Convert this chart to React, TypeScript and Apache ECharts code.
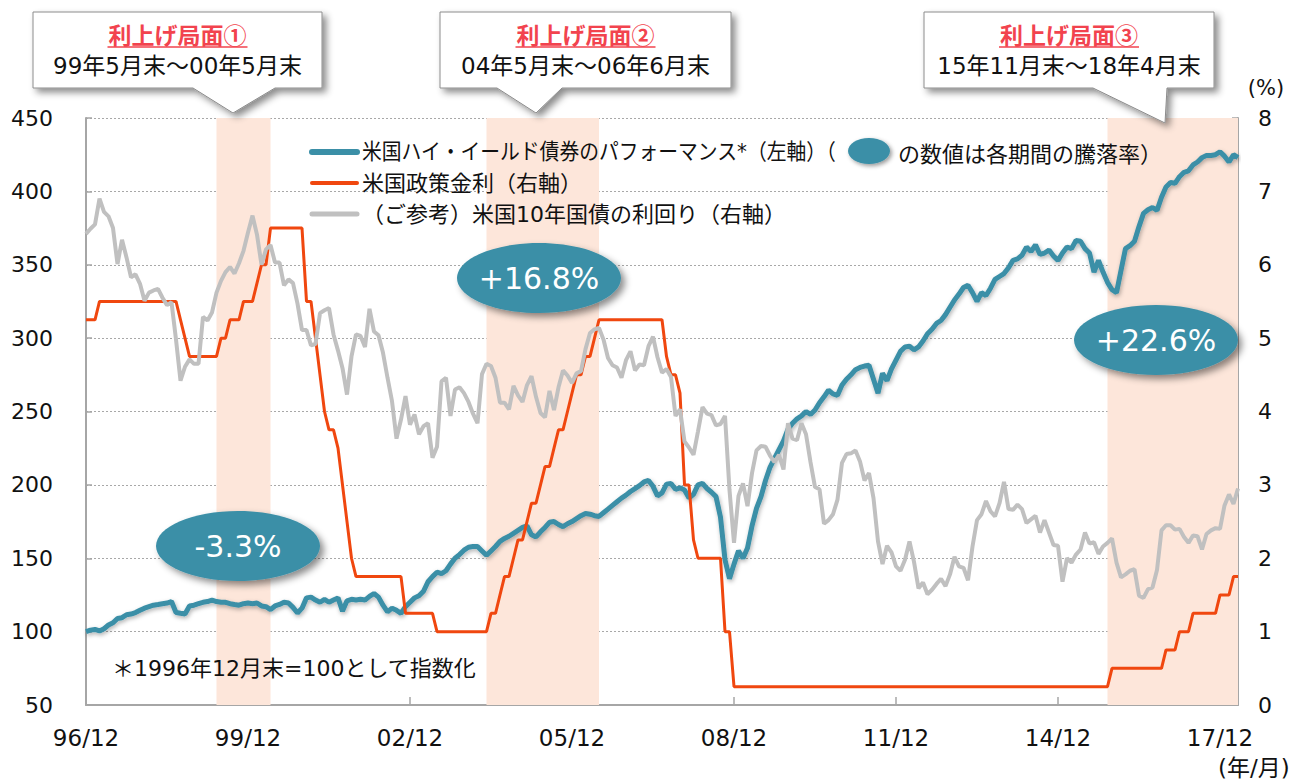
import React, { useEffect, useRef } from "react";
import * as echarts from "echarts";

// Monthly categories 1996/12 .. 2018/04
const months: string[] = [];
{
  let y = 1996;
  let m = 12;
  while (!(y === 2018 && m === 5)) {
    months.push(`${String(y % 100).padStart(2, "0")}/${m}`);
    m++;
    if (m > 12) { m = 1; y++; }
  }
}

// 米国ハイ・イールド債券のパフォーマンス (1996/12 = 100)
const hyIndex: number[] = [
  100,
  101, 101.5, 100.5, 102, 104.5, 106, 109, 109.5, 111.5, 112, 113, 114.5,
  116, 117, 118, 118.5, 119, 119.5, 120.5, 113, 112.5, 112, 117.5, 118,
  119, 120, 120.5, 121.5, 120.5, 120, 120, 119, 118.5, 118, 119, 119.5,
  119, 119.5, 117.5, 117, 115, 117.5, 118.5, 120, 119.5, 116.5, 112.7, 116,
  123, 123.5, 121.5, 120, 122, 120, 121.5, 123, 114, 121, 122, 121.5,
  122, 121.5, 124, 126, 123.5, 118, 113.5, 116, 114.5, 112.5, 117, 120,
  123, 124.5, 127.5, 134, 137.5, 140.5, 139.5, 141.5, 146, 150, 152.5, 155.5,
  157.5, 158, 158, 155, 152, 155, 158, 161.5, 163.5, 165, 167, 169,
  171, 172, 166, 164.5, 168, 171, 174.5, 175, 173, 171.5, 173.5, 175,
  177, 179, 180.5, 180, 179, 178.5, 181, 183.5, 186, 188.5, 191, 193,
  195.5, 197.5, 199.5, 202, 203, 199, 192.5, 194.5, 200.5, 201, 197, 198,
  196.5, 191, 193.5, 200, 201, 197.5, 195, 192, 178, 149, 136, 146,
  155, 150, 157, 172, 184, 192, 203, 212, 218, 224, 230, 238,
  242, 245, 247, 250, 248, 251, 256, 260, 264.5, 262, 261, 268,
  272, 275, 278.5, 280, 281, 281.5, 272, 262.5, 276, 271, 279, 285,
  291, 294, 294.5, 292, 294, 298, 303, 306, 310, 312, 316, 321,
  326, 330, 334.5, 336, 331, 325, 331, 329, 334, 340, 342, 344,
  348, 353, 354, 356.5, 362, 359, 363.5, 357, 358, 360, 356, 353,
  358, 362, 361, 366.5, 366, 361, 358, 345, 353, 345, 338, 333,
  331, 346, 361, 363, 366, 376, 385, 387.5, 389, 387, 396, 403,
  406, 405.5, 410, 413, 414, 418, 420, 423, 424.5, 424.5, 425, 427,
  424, 420, 425, 423,
];

// 米国政策金利 (%)
const policyRate: number[] = [
  5.25,
  5.25, 5.25, 5.5, 5.5, 5.5, 5.5, 5.5, 5.5, 5.5, 5.5, 5.5, 5.5,
  5.5, 5.5, 5.5, 5.5, 5.5, 5.5, 5.5, 5.5, 5.25, 5.0, 4.75, 4.75,
  4.75, 4.75, 4.75, 4.75, 4.75, 5.0, 5.0, 5.25, 5.25, 5.25, 5.5, 5.5,
  5.5, 5.75, 6.0, 6.0, 6.5, 6.5, 6.5, 6.5, 6.5, 6.5, 6.5, 6.5,
  5.5, 5.5, 5.0, 4.5, 4.0, 3.75, 3.75, 3.5, 3.0, 2.5, 2.0, 1.75,
  1.75, 1.75, 1.75, 1.75, 1.75, 1.75, 1.75, 1.75, 1.75, 1.75, 1.25, 1.25,
  1.25, 1.25, 1.25, 1.25, 1.25, 1.0, 1.0, 1.0, 1.0, 1.0, 1.0, 1.0,
  1.0, 1.0, 1.0, 1.0, 1.0, 1.25, 1.25, 1.5, 1.75, 1.75, 2.0, 2.25,
  2.25, 2.5, 2.75, 2.75, 3.0, 3.25, 3.25, 3.5, 3.75, 3.75, 4.0, 4.25,
  4.5, 4.5, 4.75, 4.75, 5.0, 5.25, 5.25, 5.25, 5.25, 5.25, 5.25, 5.25,
  5.25, 5.25, 5.25, 5.25, 5.25, 5.25, 5.25, 5.25, 4.75, 4.5, 4.5, 4.25,
  3.0, 3.0, 2.25, 2.0, 2.0, 2.0, 2.0, 2.0, 2.0, 1.0, 1.0, 0.25,
  0.25, 0.25, 0.25, 0.25, 0.25, 0.25, 0.25, 0.25, 0.25, 0.25, 0.25, 0.25,
  0.25, 0.25, 0.25, 0.25, 0.25, 0.25, 0.25, 0.25, 0.25, 0.25, 0.25, 0.25,
  0.25, 0.25, 0.25, 0.25, 0.25, 0.25, 0.25, 0.25, 0.25, 0.25, 0.25, 0.25,
  0.25, 0.25, 0.25, 0.25, 0.25, 0.25, 0.25, 0.25, 0.25, 0.25, 0.25, 0.25,
  0.25, 0.25, 0.25, 0.25, 0.25, 0.25, 0.25, 0.25, 0.25, 0.25, 0.25, 0.25,
  0.25, 0.25, 0.25, 0.25, 0.25, 0.25, 0.25, 0.25, 0.25, 0.25, 0.25, 0.25,
  0.25, 0.25, 0.25, 0.25, 0.25, 0.25, 0.25, 0.25, 0.25, 0.25, 0.25, 0.5,
  0.5, 0.5, 0.5, 0.5, 0.5, 0.5, 0.5, 0.5, 0.5, 0.5, 0.5, 0.75,
  0.75, 0.75, 1.0, 1.0, 1.0, 1.25, 1.25, 1.25, 1.25, 1.25, 1.25, 1.5,
  1.5, 1.5, 1.75, 1.75,
];

// （ご参考）米国10年国債の利回り (%)
const tenYearYield: number[] = [
  6.42,
  6.49, 6.55, 6.90, 6.72, 6.66, 6.50, 6.01, 6.34, 6.10, 5.83, 5.87, 5.74,
  5.51, 5.62, 5.65, 5.67, 5.55, 5.45, 5.49, 4.98, 4.42, 4.61, 4.71, 4.65,
  4.65, 5.29, 5.24, 5.35, 5.62, 5.78, 5.90, 5.97, 5.88, 6.02, 6.19, 6.44,
  6.67, 6.41, 6.00, 6.21, 6.27, 6.03, 6.03, 5.72, 5.80, 5.75, 5.47, 5.11,
  5.11, 4.90, 4.92, 5.34, 5.38, 5.41, 5.05, 4.83, 4.59, 4.23, 4.75, 5.05,
  5.03, 4.88, 5.40, 5.09, 5.04, 4.80, 4.46, 4.14, 3.63, 3.89, 4.21, 3.82,
  3.96, 3.69, 3.80, 3.84, 3.37, 3.52, 4.41, 4.46, 3.94, 4.30, 4.33, 4.25,
  4.13, 3.97, 3.84, 4.51, 4.65, 4.62, 4.46, 4.12, 4.12, 4.03, 4.35, 4.22,
  4.13, 4.36, 4.48, 4.20, 3.98, 3.92, 4.28, 4.02, 4.33, 4.56, 4.49, 4.39,
  4.52, 4.55, 4.85, 5.07, 5.12, 5.14, 4.98, 4.73, 4.63, 4.60, 4.46, 4.70,
  4.82, 4.56, 4.64, 4.63, 4.89, 5.02, 4.74, 4.53, 4.58, 4.47, 3.94, 4.03,
  3.59, 3.51, 3.41, 3.73, 4.06, 3.97, 3.95, 3.81, 3.83, 3.94, 2.93, 2.21,
  2.85, 3.02, 2.71, 3.16, 3.47, 3.53, 3.52, 3.40, 3.31, 3.41, 3.21, 3.84,
  3.63, 3.61, 3.84, 3.69, 3.31, 2.97, 2.94, 2.47, 2.52, 2.60, 2.80, 3.30,
  3.42, 3.43, 3.47, 3.32, 3.06, 3.16, 2.82, 2.23, 1.92, 2.17, 2.08, 1.89,
  1.83, 1.98, 2.23, 1.95, 1.59, 1.67, 1.51, 1.57, 1.65, 1.72, 1.62, 1.78,
  2.02, 1.89, 1.87, 1.70, 2.16, 2.52, 2.60, 2.78, 2.64, 2.57, 2.75, 3.04,
  2.67, 2.66, 2.73, 2.67, 2.48, 2.53, 2.58, 2.35, 2.52, 2.35, 2.18, 2.17,
  1.68, 2.00, 1.94, 2.05, 2.12, 2.35, 2.20, 2.22, 2.06, 2.16, 2.21, 2.27,
  1.94, 1.74, 1.78, 1.83, 1.85, 1.49, 1.46, 1.58, 1.60, 1.84, 2.38, 2.45,
  2.45, 2.39, 2.40, 2.29, 2.21, 2.31, 2.30, 2.12, 2.33, 2.38, 2.41, 2.40,
  2.72, 2.87, 2.74, 2.95,
];

// 利上げ局面
const hikePeriods: [string, string][] = [
  ["99/5", "00/5"],
  ["04/5", "06/6"],
  ["15/11", "18/4"],
];
const hikeTitles = ["利上げ局面①", "利上げ局面②", "利上げ局面③"];
const hikeRanges = ["99年5月末～00年5月末", "04年5月末～06年6月末", "15年11月末～18年4月末"];
const hikeReturns = ["-3.3%", "+16.8%", "+22.6%"];

const seriesNames = [
  "米国ハイ・イールド債券のパフォーマンス*（左軸）（",
  "米国政策金利（右軸）",
  "（ご参考）米国10年国債の利回り（右軸）",
];

const TEAL = "#3b8fa7";
const RED = "#f0470f";
const GRAY = "#c0c0c0";
const JP = '"Noto Sans CJK JP", sans-serif';
const MIX = '"DejaVu Sans", "Noto Sans CJK JP", sans-serif';
const NUM = '"DejaVu Sans", Verdana, sans-serif';

export default function App() {
  const ref = useRef<HTMLDivElement>(null);
  useEffect(() => {
    if (!ref.current) return;
    const chart = echarts.init(ref.current, null, { renderer: "svg" });
    const shadow = { shadowBlur: 7, shadowOffsetX: 4, shadowOffsetY: 4, shadowColor: "rgba(0,0,0,0.45)" };

    const callouts = [
      { x0: 33, x1: 322, b0: 193, b1: 275, tip: [233, 113] },
      { x0: 440, x1: 731, b0: 497, b1: 562, tip: [536, 113] },
      { x0: 924, x1: 1214, b0: 1093, b1: 1167, tip: [1165, 123] },
    ];
    const graphics: any[] = [];
    callouts.forEach((c, i) => {
      graphics.push({
        type: "polygon",
        shape: {
          points: [
            [c.x0, 12], [c.x1, 12], [c.x1, 88], [c.b1, 88], c.tip, [c.b0, 88], [c.x0, 88],
          ],
        },
        style: { fill: "#fff", stroke: "#8c8c8c", lineWidth: 1, ...shadow },
        z: 10,
      });
      const cx = (c.x0 + c.x1) / 2;
      graphics.push({
        type: "text", x: cx, y: 34, z: 11,
        style: { text: hikeTitles[i], font: `bold 23px ${JP}`, fill: "#f2434e", textAlign: "center", textVerticalAlign: "middle" },
      });
      graphics.push({
        type: "line", z: 11,
        shape: { x1: cx - 70, y1: 47, x2: cx + 70, y2: 47 },
        style: { stroke: "#f2434e", lineWidth: 1.5 },
      });
      graphics.push({
        type: "text", x: cx, y: 66, z: 11,
        style: { text: hikeRanges[i], font: `23px ${MIX}`, fill: "#111", textAlign: "center", textVerticalAlign: "middle" },
      });
    });

    const bubbles = [
      { cx: 238, cy: 546 },
      { cx: 539, cy: 278 },
      { cx: 1156, cy: 340 },
    ];
    bubbles.forEach((b, i) => {
      graphics.push({
        type: "ellipse", z: 10,
        shape: { cx: b.cx, cy: b.cy, rx: 82, ry: 35 },
        style: { fill: TEAL, ...shadow },
      });
      graphics.push({
        type: "text", x: b.cx, y: b.cy, z: 11,
        style: { text: hikeReturns[i], font: `30px ${NUM}`, fill: "#fff", textAlign: "center", textVerticalAlign: "middle" },
      });
    });

    // legend
    const legendY = [152, 183, 214];
    const legendColors = [TEAL, RED, GRAY];
    const legendWidths = [6, 4, 5];
    legendY.forEach((y, i) => {
      graphics.push({
        type: "line", z: 10,
        shape: { x1: 312, y1: y, x2: 357, y2: y },
        style: { stroke: legendColors[i], lineWidth: legendWidths[i], lineCap: "round" },
      });
      graphics.push({
        type: "text", x: 362, y, z: 10, scaleX: i === 0 ? 0.9 : 1,
        style: { text: seriesNames[i], x: 0, y: 0, font: `22px ${MIX}`, fill: "#111", textAlign: "left", textVerticalAlign: "middle" },
      });
    });
    graphics.push({
      type: "ellipse", z: 10,
      shape: { cx: 869, cy: 151, rx: 21, ry: 13 },
      style: { fill: TEAL, shadowBlur: 4, shadowOffsetX: 2, shadowOffsetY: 2, shadowColor: "rgba(0,0,0,0.4)" },
    });
    graphics.push({
      type: "text", x: 898, y: 152, z: 10,
      style: { text: "の数値は各期間の騰落率）", font: `22px ${JP}`, fill: "#111", textAlign: "left", textVerticalAlign: "middle" },
    });
    graphics.push({
      type: "text", x: 112, y: 668, z: 10,
      style: { text: "＊1996年12月末=100として指数化", font: `22px ${MIX}`, fill: "#111", textAlign: "left", textVerticalAlign: "middle" },
    });
    graphics.push({
      type: "text", x: 1266, y: 88, z: 10,
      style: { text: "(%)", font: `21px ${NUM}`, fill: "#111", textAlign: "center", textVerticalAlign: "middle" },
    });
    graphics.push({
      type: "text", x: 1218, y: 768, z: 10,
      style: { text: "(年/月)", font: `23px ${MIX}`, fill: "#111", textAlign: "left", textVerticalAlign: "middle" },
    });

    const tickEvery = (i: number) => i % 36 === 0;

    chart.setOption({
      animation: false,
      grid: { left: 86, right: 54, top: 118, bottom: 76, containLabel: false },
      xAxis: {
        type: "category",
        data: months,
        boundaryGap: false,
        axisLine: { lineStyle: { color: "#a6a6a6", width: 2 } },
        axisTick: { inside: true, length: 8, interval: tickEvery, lineStyle: { color: "#a6a6a6", width: 1.5 } },
        axisLabel: {
          interval: tickEvery, margin: 21, fontSize: 23, color: "#111", fontFamily: NUM,
          formatter: (v: string) => {
            const [yy, mm] = v.split("/");
            return `${yy}/${mm.padStart(2, "0")}`;
          },
        },
        splitLine: { show: false },
      },
      yAxis: [
        {
          type: "value", min: 50, max: 450, interval: 50, position: "left",
          axisLine: { show: true, lineStyle: { color: "#a6a6a6", width: 2 } },
          axisTick: { show: true, inside: true, length: 6, lineStyle: { color: "#a6a6a6", width: 1.5 } },
          axisLabel: { margin: 33, fontSize: 22, color: "#111", fontFamily: NUM },
          splitLine: { show: true, lineStyle: { color: "#a8a8a8", type: [2, 2], width: 1 } },
        },
        {
          type: "value", min: 0, max: 8, interval: 1, position: "right",
          axisLine: { show: true, lineStyle: { color: "#a6a6a6", width: 2 } },
          axisTick: { show: true, inside: true, length: 6, lineStyle: { color: "#a6a6a6", width: 1.5 } },
          axisLabel: { margin: 20, fontSize: 22, color: "#111", fontFamily: NUM },
          splitLine: { show: false },
        },
      ],
      series: [
        {
          name: seriesNames[0], type: "line", data: hyIndex, yAxisIndex: 0,
          showSymbol: false, symbol: "none", z: 3,
          lineStyle: { color: TEAL, width: 5, shadowBlur: 4, shadowOffsetY: 2, shadowOffsetX: 1, shadowColor: "rgba(0,0,0,0.3)" },
          markArea: {
            silent: true,
            itemStyle: { color: "#fde6da" },
            data: hikePeriods.map(([a, b]) => [{ xAxis: a }, { xAxis: b }]),
          },
        },
        {
          name: seriesNames[1], type: "line", data: policyRate, yAxisIndex: 1,
          showSymbol: false, symbol: "none", z: 4,
          lineStyle: { color: RED, width: 3 },
        },
        {
          name: seriesNames[2], type: "line", data: tenYearYield, yAxisIndex: 1,
          showSymbol: false, symbol: "none", z: 5,
          lineStyle: { color: GRAY, width: 4 },
        },
      ],
      graphic: graphics,
    });
    return () => chart.dispose();
  }, []);
  return <div ref={ref} style={{ width: 1292, height: 781, position: "absolute", left: 0, top: 0 }} />;
}
